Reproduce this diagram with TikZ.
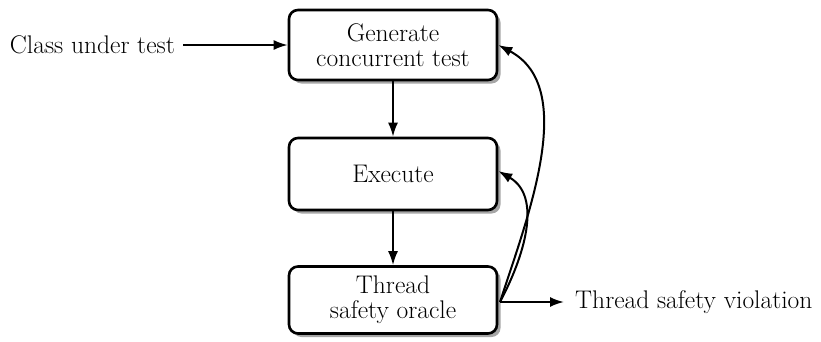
\documentclass[tikz,border=0pt]{standalone}
\usetikzlibrary{shadows,arrows.meta}
\begin{document}
\begin{tikzpicture}[x=1pt,y=-1pt,
  font=\fontsize{25.5}{25}\selectfont,
  stage/.style={draw=black, line width=2.6pt, rounded corners=9pt, fill=white,
    minimum width=208pt, align=center,
    drop shadow={shadow xshift=3.5pt, shadow yshift=-3.5pt, fill=black!35, opacity=1}},
  flow/.style={line width=2pt, -{Latex[length=14pt,width=10pt]}}]
\useasboundingbox (0,0) rectangle (821,341);
\node[stage, minimum height=70pt] (gen) at (393,45) {Generate\\concurrent test};
\node[stage, minimum height=72pt] (exe) at (393,174) {Execute};
\node[stage, minimum height=67pt] (orc) at (393,300) {Thread\\safety oracle};
\node[anchor=east, inner sep=0pt] (cut) at (175,45) {Class under test};
\node[anchor=west, inner sep=0pt] (viol) at (575,302) {Thread safety violation};
\coordinate (src) at (500,302);
\draw[flow, shorten <=8pt] (cut.east) -- (gen.west);
\draw[flow] (gen) -- (exe);
\draw[flow] (exe) -- (orc);
\draw[flow, shorten >=11pt] (src) -- (viol.west);
\draw[flow] (src) to[out=62, in=-30] ([yshift=3pt]exe.east);
\draw[flow] (src) to[out=72, in=-28, looseness=0.9] (gen.east);
\end{tikzpicture}
\end{document}
